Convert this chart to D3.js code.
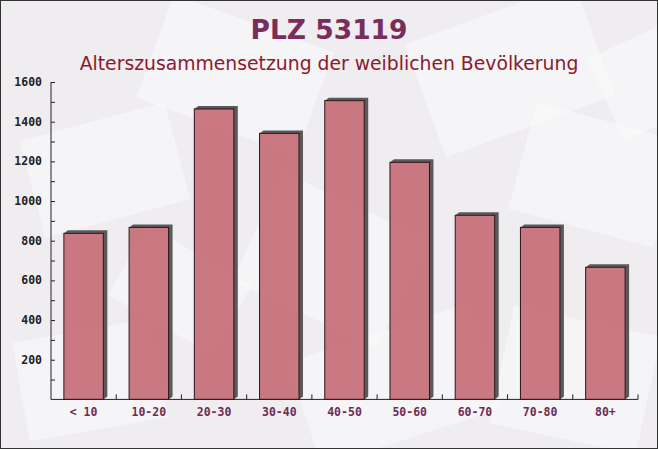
<!DOCTYPE html>
<html><head><meta charset="utf-8">
<script src="https://cdn.jsdelivr.net/npm/d3@7"></script>
<style>html,body{margin:0;padding:0;background:#fff}</style>
</head><body>
<script>
const categories = ["< 10","10-20","20-30","30-40","40-50","50-60","60-70","70-80","80+"];
const values = [837, 867, 1464, 1341, 1506, 1195, 928, 867, 666];
const yTicks = [200,400,600,800,1000,1200,1400,1600];
const title = "PLZ 53119";
const subtitle = "Alterszusammensetzung der weiblichen Bevölkerung";

const W = 658, H = 449;
const svg = d3.select("body").append("svg").attr("width", W).attr("height", H);

// background
svg.append("rect").attr("x",0).attr("y",0).attr("width",W).attr("height",H).attr("fill","#efedf0");
const deco = [
  [30,120,150,100,-15],[150,20,170,110,20],[420,10,180,120,-20],[520,120,150,110,15],
  [250,200,160,120,25],[20,330,140,100,-10],[300,330,190,110,-18],[500,320,150,120,12],
  [120,250,120,80,30],[600,30,120,90,-25]
];
svg.append("g").selectAll("rect").data(deco).join("rect")
  .attr("x",d=>d[0]).attr("y",d=>d[1]).attr("width",d=>d[2]).attr("height",d=>d[3])
  .attr("transform",d=>`rotate(${d[4]},${d[0]+d[2]/2},${d[1]+d[3]/2})`)
  .attr("fill","#ffffff").attr("opacity",0.4);

const x0 = 51, x1 = 638, y0 = 399.4, y1 = 82;
const x = d3.scaleBand().domain(categories).range([x0, x1]).paddingInner(0.395).paddingOuter(0.1975);
const y = d3.scaleLinear().domain([0,1600]).range([y0, y1]);

// shadows (only outside the bar)
const dx = 4, dy = 3;
svg.append("g").selectAll("polygon").data(values).join("polygon")
  .attr("points",(v,i)=>{
    const bx = x(categories[i]), bw = x.bandwidth(), by = y(v);
    return [[bx,by],[bx+dx,by-dy],[bx+bw+dx,by-dy],[bx+bw+dx,y0-dy],[bx+bw,y0],[bx+bw,by]].map(p=>p.join(",")).join(" ");
  })
  .attr("fill","#5a5a5a");

// bars
svg.append("g").selectAll("rect").data(values).join("rect")
  .attr("x",(v,i)=>x(categories[i])).attr("y",v=>y(v))
  .attr("width",x.bandwidth()).attr("height",v=>y0-y(v))
  .attr("fill","#c2636e").attr("fill-opacity",0.85)
  .attr("stroke","#2a1418").attr("stroke-width",1);

// y axis
const yAxis = d3.axisRight(y).tickValues(d3.range(100,1601,100)).tickSize(4).tickFormat("");
const gy = svg.append("g").attr("transform",`translate(${x0},0)`).call(yAxis);
gy.select(".domain").remove();
gy.selectAll(".tick line").attr("stroke","#222");
svg.append("line").attr("x1",x0).attr("x2",x0).attr("y1",y1).attr("y2",y0).attr("stroke","#222");
svg.append("g").selectAll("text").data(yTicks).join("text")
  .attr("x",42).attr("y",d=>y(d)+4).attr("text-anchor","end")
  .attr("font-family","'DejaVu Sans Mono', monospace").attr("font-weight","bold")
  .attr("font-size","11.5px").attr("fill","#222").text(d=>d);

// x axis
svg.append("line").attr("x1",x0).attr("x2",x1).attr("y1",y0).attr("y2",y0).attr("stroke","#222");
const bounds = d3.range(1, categories.length+1).map(i => x0 + i*(x1-x0)/categories.length);
svg.append("g").selectAll("line").data(bounds).join("line")
  .attr("x1",d=>d).attr("x2",d=>d).attr("y1",y0).attr("y2",y0-5).attr("stroke","#222");
svg.append("g").selectAll("text").data(categories).join("text")
  .attr("x",d=>x(d)+x.bandwidth()/2).attr("y",416).attr("text-anchor","middle")
  .attr("font-family","'DejaVu Sans Mono', monospace").attr("font-weight","bold")
  .attr("font-size","11.5px").attr("fill","#6e2c54").text(d=>d);

// titles
svg.append("text").attr("x",329).attr("y",39).attr("text-anchor","middle")
  .attr("font-family","'DejaVu Sans', sans-serif").attr("font-weight","bold")
  .attr("font-size","26.5px").attr("fill","#7a2c5a").text(title);
svg.append("text").attr("x",329).attr("y",70).attr("text-anchor","middle")
  .attr("font-family","'DejaVu Sans', sans-serif")
  .attr("font-size","18.8px").attr("fill","#8b1a2e").text(subtitle);

// frame
svg.append("rect").attr("x",0.5).attr("y",0.5).attr("width",W-1).attr("height",H-1)
  .attr("fill","none").attr("stroke","#333");
</script>
</body></html>
